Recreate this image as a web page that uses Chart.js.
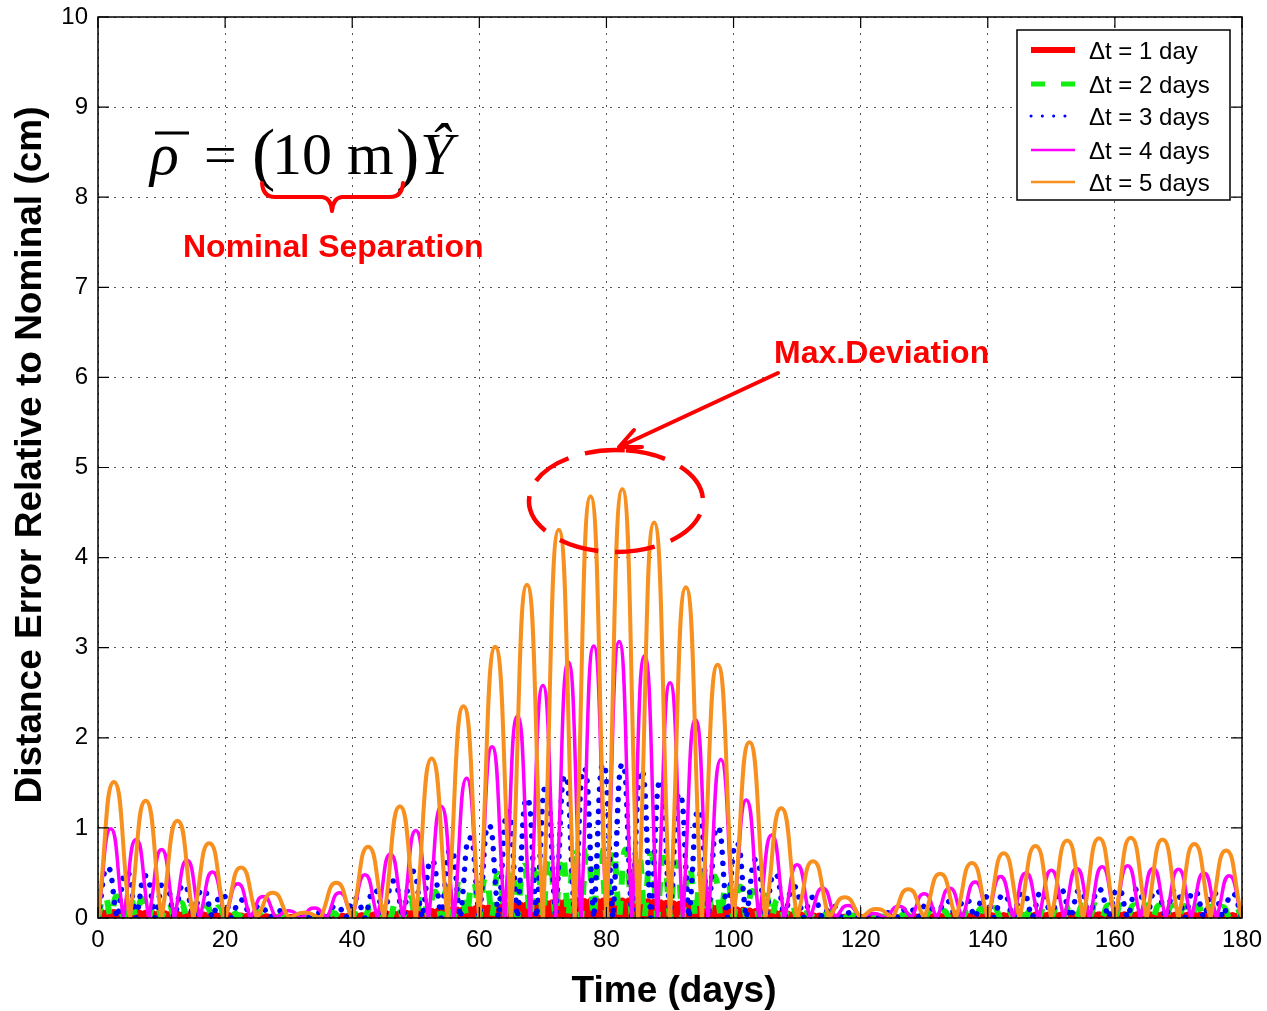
<!DOCTYPE html>
<html>
<head>
<meta charset="utf-8">
<script src="https://cdn.jsdelivr.net/npm/chart.js@4.4.1/dist/chart.umd.min.js"></script>
<style>
  html, body { margin: 0; padding: 0; background: #fff; }
</style>
</head>
<body>
<canvas id="grafico" width="1267" height="1011"></canvas>
<script>
// arch peak heights (cm), one value per sampling interval
const legendas = ["\u0394t = 1 day", "\u0394t = 2 days", "\u0394t = 3 days", "\u0394t = 4 days", "\u0394t = 5 days"];
const passos = [1, 2, 3, 4, 5];   // days between zeros of each curve

const picos1 = [
  0.064,0.062,0.060,0.059,0.057,0.055,0.054,0.052,0.050,0.048,
  0.047,0.045,0.043,0.041,0.039,0.037,0.035,0.033,0.031,0.029,
  0.027,0.025,0.022,0.020,0.018,0.016,0.013,0.011,0.009,0.008,
  0.006,0.004,0.002,0.005,0.008,0.010,0.013,0.016,0.019,0.022,
  0.025,0.028,0.032,0.035,0.039,0.042,0.046,0.050,0.054,0.058,
  0.062,0.067,0.071,0.075,0.080,0.085,0.089,0.094,0.099,0.105,
  0.110,0.115,0.120,0.126,0.131,0.137,0.142,0.148,0.153,0.158,
  0.163,0.168,0.172,0.175,0.178,0.181,0.184,0.187,0.188,0.189,
  0.189,0.190,0.190,0.188,0.185,0.182,0.179,0.176,0.170,0.164,
  0.158,0.153,0.147,0.140,0.133,0.126,0.119,0.112,0.106,0.099,
  0.092,0.085,0.078,0.072,0.066,0.061,0.055,0.049,0.044,0.039,
  0.035,0.030,0.025,0.022,0.019,0.016,0.012,0.009,0.008,0.007,
  0.006,0.005,0.004,0.006,0.008,0.009,0.011,0.013,0.014,0.015,
  0.017,0.018,0.020,0.021,0.022,0.023,0.024,0.024,0.025,0.026,
  0.027,0.028,0.029,0.030,0.030,0.031,0.031,0.032,0.033,0.033,
  0.034,0.034,0.034,0.035,0.035,0.035,0.035,0.035,0.035,0.036,
  0.036,0.036,0.036,0.036,0.035,0.035,0.035,0.035,0.034,0.034,
  0.034,0.033,0.033,0.032,0.032,0.031,0.031,0.030,0.029,0.029
];
const picos2 = [
  0.25,0.24,0.22,0.21,0.20,0.18,0.17,0.15,0.14,0.12,
  0.10,0.085,0.067,0.049,0.034,0.02,0.015,0.036,0.056,0.082,
  0.107,0.134,0.162,0.19,0.22,0.26,0.29,0.33,0.37,0.41,
  0.45,0.49,0.54,0.58,0.62,0.66,0.70,0.72,0.74,0.75,
  0.76,0.76,0.73,0.71,0.67,0.62,0.57,0.52,0.46,0.41,
  0.35,0.30,0.25,0.21,0.17,0.13,0.094,0.069,0.043,0.030,
  0.022,0.020,0.034,0.048,0.059,0.070,0.080,0.088,0.096,0.103,
  0.11,0.116,0.122,0.127,0.131,0.135,0.138,0.140,0.141,0.142,
  0.142,0.142,0.141,0.140,0.137,0.134,0.130,0.126,0.121,0.117
];
const picos3 = [
  0.56,0.51,0.47,0.42,0.37,0.32,0.26,0.20,0.14,0.08,
  0.03,0.06,0.14,0.22,0.31,0.41,0.52,0.64,0.76,0.89,
  1.03,1.18,1.33,1.47,1.58,1.66,1.71,1.71,1.64,1.53,
  1.38,1.20,1.01,0.83,0.65,0.49,0.35,0.23,0.14,0.06,
  0.04,0.06,0.12,0.15,0.19,0.21,0.24,0.26,0.28,0.29,
  0.31,0.31,0.32,0.32,0.32,0.31,0.31,0.30,0.28,0.27
];
const picos4 = [
  0.99,0.87,0.76,0.64,0.51,0.38,0.24,0.08,0.11,0.28,
  0.48,0.71,0.97,1.24,1.55,1.90,2.24,2.58,2.84,3.02,
  3.07,2.91,2.61,2.20,1.76,1.31,0.92,0.59,0.33,0.14,
  0.05,0.13,0.27,0.33,0.40,0.46,0.50,0.53,0.55,0.57,
  0.58,0.55,0.54,0.50,0.47
];
const picos5 = [
  1.51,1.30,1.08,0.83,0.56,0.28,0.06,0.39,0.79,1.24,
  1.77,2.35,3.01,3.70,4.31,4.68,4.76,4.39,3.67,2.81,
  1.95,1.22,0.63,0.23,0.10,0.32,0.49,0.61,0.72,0.80,
  0.86,0.885,0.89,0.87,0.82,0.75
];

const rotulosX = [0, 20, 40, 60, 80, 100, 120, 140, 160, 180];
const rotulosY = [0, 1, 2, 3, 4, 5, 6, 7, 8, 9, 10];

const fonte = "'Liberation Sans', Arial, Helvetica, sans-serif";
const serifa = "'Liberation Serif', 'Times New Roman', serif";

// one point at each peak, and a pair of points hugging each zero so the curve keeps its cusp
function arcos(passo, picos) {
  const pts = [{ x: 0, y: 0 }];
  picos.forEach((p, i) => {
    const fim = (i + 1) * passo;
    pts.push({ x: i * passo + passo / 2, y: p });
    if (i < picos.length - 1) {
      pts.push({ x: fim - 0.02, y: 0 });
      pts.push({ x: fim + 0.02, y: 0 });
    } else {
      pts.push({ x: fim, y: 0 });
    }
  });
  return pts;
}

const estilos = [
  { cor: '#ff0000', largura: 7, traco: [], ponta: 'butt', legLargura: 6, legTraco: [] },
  { cor: '#11ee11', largura: 6, traco: [14, 16], ponta: 'butt', legLargura: 5, legTraco: [14, 16] },
  { cor: '#0000ff', largura: 5.5, traco: [0.1, 11], ponta: 'round', legLargura: 3, legTraco: [0.1, 11.2] },
  { cor: '#ff00ff', largura: 3.5, traco: [], ponta: 'butt', legLargura: 2.5, legTraco: [] },
  { cor: '#f7901e', largura: 4, traco: [], ponta: 'butt', legLargura: 2.5, legTraco: [] }
];
const todosPicos = [picos1, picos2, picos3, picos4, picos5];

const conjuntos = todosPicos.map((picos, i) => ({
  label: legendas[i],
  data: arcos(passos[i], picos),
  borderColor: estilos[i].cor,
  borderWidth: estilos[i].largura,
  borderDash: estilos[i].traco,
  borderCapStyle: estilos[i].ponta,
  borderJoinStyle: 'round',
  pointRadius: 0,
  tension: 0.55,
  fill: false,
  clip: 0,
  order: 5 - i   // later curves on top, like the original
}));

// frame, inward ticks, legend, axis titles and the red notes
const extras = {
  id: 'extras',
  afterDraw(chart) {
    const c = chart.ctx;
    const a = chart.chartArea;
    const sx = chart.scales.x, sy = chart.scales.y;
    c.save();

    // box and inward ticks
    c.strokeStyle = '#000';
    c.lineWidth = 1.5;
    c.setLineDash([]);
    c.strokeRect(a.left, a.top, a.right - a.left, a.bottom - a.top);
    c.lineWidth = 1.2;
    c.beginPath();
    rotulosX.forEach(v => {
      const px = sx.getPixelForValue(v);
      c.moveTo(px, a.bottom); c.lineTo(px, a.bottom - 11);
      c.moveTo(px, a.top); c.lineTo(px, a.top + 11);
    });
    rotulosY.forEach(v => {
      const py = sy.getPixelForValue(v);
      c.moveTo(a.left, py); c.lineTo(a.left + 11, py);
      c.moveTo(a.right, py); c.lineTo(a.right - 11, py);
    });
    c.stroke();

    // legend
    c.fillStyle = '#fff';
    c.fillRect(1017, 30, 213, 170);
    c.lineWidth = 1.5;
    c.strokeStyle = '#000';
    c.strokeRect(1017, 30, 213, 170);
    const linhas = [50, 84, 116, 150, 182];
    chart.data.datasets.forEach((ds, i) => {
      const y = linhas[i];
      c.beginPath();
      c.strokeStyle = ds.borderColor;
      c.lineWidth = estilos[i].legLargura;
      c.lineCap = estilos[i].ponta;
      c.setLineDash(estilos[i].legTraco);
      c.moveTo(1031, y); c.lineTo(1075, y);
      c.stroke();
      c.setLineDash([]);
      c.lineCap = 'butt';
      c.fillStyle = '#000';
      c.font = '24px ' + fonte;
      c.textAlign = 'left';
      c.textBaseline = 'alphabetic';
      c.fillText(ds.label, 1089, y + 8.5);
    });

    // axis titles
    c.fillStyle = '#000';
    c.font = 'bold 37px ' + fonte;
    c.textAlign = 'center';
    c.textBaseline = 'alphabetic';
    c.fillText('Time (days)', 674, 1002);
    c.save();
    c.translate(41, 455);
    c.rotate(-Math.PI / 2);
    c.font = 'bold 37px ' + fonte;
    c.fillText('Distance Error Relative to Nominal (cm)', 0, 0);
    c.restore();

    // formula
    c.textAlign = 'left';
    c.fillStyle = '#000';
    c.font = 'italic 60px ' + serifa;
    c.fillText('\u03C1', 150, 174);
    c.font = '58px ' + serifa;
    c.fillText('=', 204, 174);
    c.font = '70px ' + serifa;
    c.fillText('(', 252, 177);
    c.fillText(')', 396, 177);
    c.font = '60px ' + serifa;
    c.fillText('10 m', 272, 174);
    c.font = 'italic 60px ' + serifa;
    c.fillText('\u0176', 420, 174);
    c.strokeStyle = '#000';
    c.lineWidth = 3;
    c.beginPath();
    c.moveTo(155, 133); c.lineTo(189, 133);
    c.stroke();

    // red notes
    c.strokeStyle = '#ff0000';
    c.fillStyle = '#ff0000';
    c.lineWidth = 4;
    c.lineCap = 'round';
    c.lineJoin = 'round';
    c.beginPath();
    c.moveTo(262, 183);
    c.quadraticCurveTo(263, 197, 275, 197);
    c.lineTo(322, 197);
    c.quadraticCurveTo(331, 198, 332, 211);
    c.quadraticCurveTo(333, 198, 342, 197);
    c.lineTo(390, 197);
    c.quadraticCurveTo(402, 197, 403, 183);
    c.stroke();

    c.font = 'bold 32px ' + fonte;
    c.fillText('Nominal Separation', 183, 257);
    c.fillText('Max.Deviation', 774, 363);

    c.beginPath();
    c.moveTo(778, 373); c.lineTo(619, 447);
    c.moveTo(634, 430); c.lineTo(619, 447); c.lineTo(642, 447);
    c.stroke();

    c.lineCap = 'butt';
    c.lineWidth = 4.5;
    c.setLineDash([40, 17]);
    c.beginPath();
    const t0 = -1.456;
    c.ellipse(616, 501, 87, 51, 0, t0, t0 + 2 * Math.PI);
    c.stroke();
    c.restore();
  }
};

const ctx = document.getElementById('grafico').getContext('2d');

let grafico = new Chart(ctx, {
  type: 'line',
  data: { datasets: conjuntos },
  options: {
    responsive: false,
    animation: false,
    layout: { padding: { top: 17, right: 25, left: 0, bottom: 0 } },
    plugins: {
      legend: { display: false },
      tooltip: { enabled: false }
    },
    scales: {
      x: {
        type: 'linear',
        min: 0,
        max: 180,
        afterFit: s => { s.height = 93; s.paddingLeft = 0; s.paddingRight = 0; },
        afterBuildTicks: s => { s.ticks = rotulosX.map(v => ({ value: v })); },
        ticks: { color: '#000', padding: 8, maxRotation: 0, font: { family: fonte, size: 24 } },
        grid: { color: '#555', lineWidth: 1, drawTicks: false },
        border: { display: false, dash: [2, 6] }
      },
      y: {
        type: 'linear',
        min: 0,
        max: 10,
        afterFit: s => { s.width = 98; s.paddingTop = 0; s.paddingBottom = 0; },
        afterBuildTicks: s => { s.ticks = rotulosY.map(v => ({ value: v })); },
        ticks: { color: '#000', padding: 10, font: { family: fonte, size: 24 } },
        grid: { color: '#555', lineWidth: 1, drawTicks: false },
        border: { display: false, dash: [2, 6] }
      }
    }
  },
  plugins: [extras]
});
</script>
</body>
</html>
